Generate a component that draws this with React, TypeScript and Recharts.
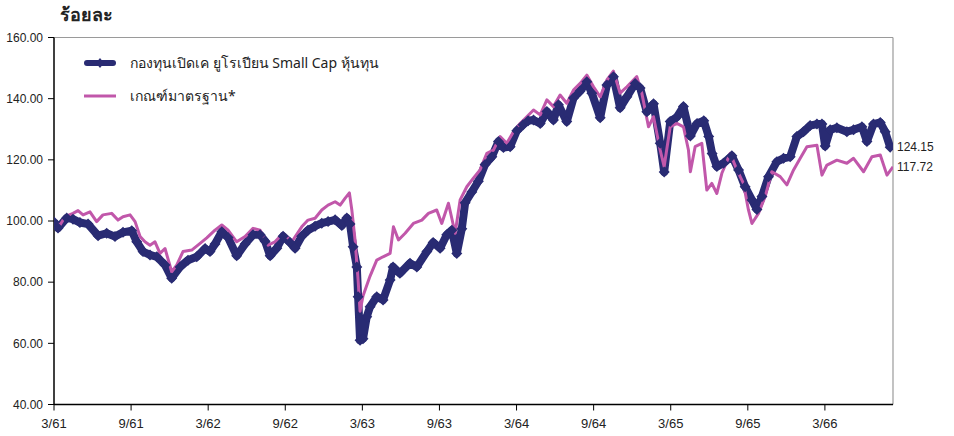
import React from "react";
import { LineChart, Line, XAxis, YAxis, ReferenceLine } from "recharts";

// months since March 2561 (2018)
const fundMonths = [0, 0.31, 0.99, 1.48, 2.02, 2.65, 3.43, 4.1, 4.75, 5.37, 6.05, 6.44, 6.93, 7.47, 8.0, 8.64, 9.16, 9.81, 10.43, 11.11, 11.76, 12.14, 12.53, 13.06, 13.55, 14.22, 14.87, 15.49, 16.04, 16.43, 16.82, 17.34, 17.83, 18.37, 18.76, 19.28, 19.77, 20.32, 20.84, 21.33, 21.88, 22.4, 22.79, 23.04, 23.28, 23.57, 23.67, 23.82, 24.05, 24.34, 24.6, 25.12, 25.61, 26.16, 26.39, 26.92, 27.71, 28.24, 29.02, 29.51, 30.05, 30.57, 30.96, 31.35, 31.74, 32.0, 32.52, 33.03, 33.55, 34.08, 34.59, 34.98, 35.5, 36.02, 36.51, 36.9, 37.32, 37.84, 38.36, 38.87, 39.26, 39.91, 40.43, 40.95, 41.47, 41.86, 42.51, 43.03, 43.54, 44.06, 44.59, 45.23, 45.62, 46.14, 46.66, 47.18, 47.49, 47.96, 48.48, 48.99, 49.53, 50.05, 50.57, 50.96, 51.22, 51.59, 52.11, 52.76, 53.28, 53.79, 54.32, 54.71, 55.1, 55.61, 56.26, 56.78, 57.3, 57.82, 58.33, 58.85, 59.38, 59.77, 60.02, 60.41, 60.93, 61.71, 62.23, 62.88, 63.27, 63.78, 64.31, 64.69, 65.08];
const fundValues = [99.7, 97.7, 101.0, 100.6, 99.5, 99.0, 95.2, 96.0, 94.9, 96.3, 96.8, 93.2, 90.0, 88.9, 88.3, 85.6, 81.3, 85.0, 87.2, 88.3, 91.0, 90.0, 92.5, 96.5, 94.6, 88.6, 92.5, 95.5, 95.5, 93.4, 88.6, 91.1, 95.0, 93.0, 91.1, 95.0, 97.0, 98.3, 99.3, 99.8, 100.4, 98.5, 101.0, 99.0, 91.6, 85.0, 75.2, 61.0, 61.5, 68.7, 72.0, 75.2, 74.2, 80.7, 85.0, 82.9, 86.2, 85.0, 90.0, 93.0, 91.1, 95.5, 97.0, 89.4, 97.5, 106.0, 109.5, 113.0, 118.5, 121.0, 126.0, 124.0, 124.3, 129.5, 131.5, 132.8, 133.0, 131.9, 135.8, 133.0, 138.0, 132.5, 140.2, 142.5, 145.5, 141.8, 133.8, 144.5, 147.2, 137.0, 140.6, 145.0, 143.5, 135.7, 138.3, 125.4, 116.0, 132.5, 134.0, 137.4, 127.8, 131.9, 132.8, 127.6, 122.1, 117.8, 118.9, 121.3, 116.7, 111.2, 106.9, 103.8, 108.0, 114.5, 119.4, 120.5, 121.0, 127.6, 129.2, 131.2, 131.7, 131.7, 124.5, 129.8, 130.5, 129.2, 129.8, 130.8, 126.0, 131.7, 132.2, 129.2, 124.15];

const benchMonths = [0, 0.47, 0.86, 1.48, 1.87, 2.26, 2.8, 3.32, 3.81, 4.49, 4.98, 5.37, 5.92, 6.31, 6.7, 7.08, 7.47, 7.86, 8.25, 8.64, 9.16, 9.55, 10.04, 10.72, 11.37, 11.89, 12.53, 13.06, 13.55, 14.22, 14.87, 15.49, 16.04, 16.66, 17.2, 17.83, 18.51, 19.28, 19.77, 20.32, 20.84, 21.33, 21.88, 22.27, 22.65, 22.99, 23.18, 23.43, 23.67, 23.82, 24.05, 24.6, 25.12, 25.61, 26.16, 26.42, 26.81, 27.33, 27.97, 28.63, 29.14, 29.79, 30.18, 30.7, 31.22, 31.61, 32.13, 32.64, 33.16, 33.69, 34.2, 34.72, 35.24, 35.76, 36.28, 36.8, 37.32, 37.84, 38.36, 38.87, 39.39, 39.91, 40.43, 40.95, 41.47, 41.99, 42.51, 43.03, 43.54, 44.06, 44.59, 45.36, 45.75, 46.27, 46.66, 47.18, 47.49, 47.96, 48.48, 48.99, 49.38, 49.53, 49.9, 50.42, 50.81, 51.2, 51.59, 51.98, 52.63, 53.15, 53.66, 54.05, 54.32, 54.83, 55.35, 55.87, 56.52, 57.04, 57.56, 58.08, 58.6, 59.38, 59.77, 60.16, 60.93, 61.71, 62.23, 63.01, 63.66, 64.31, 64.83, 65.3];
const benchValues = [99.8, 98.7, 101.4, 102.5, 103.4, 102.0, 103.0, 99.8, 102.0, 102.5, 100.3, 101.4, 102.0, 99.8, 94.9, 93.2, 92.1, 93.2, 89.4, 91.0, 83.4, 85.6, 90.0, 90.5, 92.7, 94.5, 97.0, 98.7, 97.0, 93.2, 94.9, 97.6, 97.0, 92.1, 93.2, 96.0, 93.2, 98.1, 100.3, 100.9, 103.6, 105.2, 106.3, 105.2, 107.4, 109.2, 103.6, 93.8, 80.7, 70.5, 75.5, 82.0, 87.2, 88.3, 89.4, 98.1, 93.8, 96.0, 99.2, 100.3, 102.5, 103.6, 99.2, 105.8, 96.0, 106.9, 111.2, 114.0, 116.7, 122.1, 123.2, 127.6, 125.4, 129.2, 131.9, 134.1, 136.3, 134.7, 139.6, 137.4, 141.2, 138.5, 142.8, 145.0, 147.7, 143.9, 140.6, 146.1, 149.0, 141.8, 143.9, 147.2, 141.8, 130.8, 134.1, 123.2, 117.8, 130.8, 131.9, 130.8, 123.2, 116.1, 124.3, 125.4, 110.1, 112.3, 109.0, 115.6, 122.1, 116.7, 112.3, 103.6, 99.2, 102.5, 108.0, 116.1, 114.5, 111.8, 116.7, 120.5, 124.3, 124.8, 115.0, 118.3, 119.9, 118.9, 120.5, 116.1, 121.0, 121.6, 115.0, 117.72];

const tickMonths = [0, 6, 12, 18, 24, 30, 36, 42, 48, 54, 60];
const tickLabels = ["3/61", "9/61", "3/62", "9/62", "3/63", "9/63", "3/64", "9/64", "3/65", "9/65", "3/66"];
const yTicks = [40, 60, 80, 100, 120, 140, 160];

const fundName = "กองทุนเปิดเค ยูโรเปียน Small Cap หุ้นทุน";
const benchName = "เกณฑ์มาตรฐาน*";
const yTitle = "ร้อยละ";

const NAVY = "#292B73";
const PINK = "#C157AA";
const X_MAX = 65.3;

const fundData = fundMonths.map((m, i) => ({ m, v: fundValues[i] }));
const benchData = benchMonths.map((m, i) => ({ m, v: benchValues[i] }));

const FONT = "'Liberation Sans', Arial, sans-serif";
const THAI_FONT = "'Noto Sans', 'Liberation Sans', sans-serif";

const Diamond = (props: any) => {
  const { cx, cy, index } = props;
  if (cx == null || cy == null) return <g key={"d" + index} />;
  const r = 5.5;
  return (
    <path
      key={"d" + index}
      d={`M${cx},${cy - r}L${cx + r},${cy}L${cx},${cy + r}L${cx - r},${cy}Z`}
      fill={NAVY}
      stroke="none"
    />
  );
};

const endLabel = (data: { m: number; v: number }[]) => (props: any) => {
  const { y, index } = props;
  if (index !== data.length - 1) return <g key={"l" + index} />;
  return (
    <text
      key={"l" + index}
      x={897}
      y={y}
      dy={4}
      fontSize={12}
      fontFamily={FONT}
      fill="#222"
      textAnchor="start"
    >
      {data[index].v.toFixed(2)}
    </text>
  );
};

export default function App() {
  return (
    <div style={{ position: "absolute", left: 0, top: 0, width: 954, height: 436, background: "#fff" }}>
      <div
        style={{
          position: "absolute",
          left: 60,
          top: 1,
          fontFamily: THAI_FONT,
          fontWeight: 700,
          fontSize: 18,
          color: "#222",
          lineHeight: "26px",
        }}
      >
        {yTitle}
      </div>
      <LineChart
        width={954}
        height={436}
        margin={{ top: 37.5, right: 61, bottom: 0, left: 0 }}
      >
        <XAxis
          dataKey="m"
          type="number"
          domain={[0, X_MAX]}
          ticks={tickMonths}
          tickFormatter={(v: number) => tickLabels[tickMonths.indexOf(v)] ?? ""}
          height={31.5}
          axisLine={{ stroke: "#000", strokeWidth: 1.5 }}
          tickLine={{ stroke: "#000" }}
          tickSize={6}
          tickMargin={8}
          tick={{ fontSize: 13, fontFamily: "'Liberation Sans Narrow', 'Liberation Sans', sans-serif", fill: "#222" }}
          allowDataOverflow
        />
        <YAxis
          type="number"
          domain={[40, 160]}
          ticks={yTicks}
          width={54}
          tickFormatter={(v: number) => v.toFixed(2)}
          axisLine={{ stroke: "#000", strokeWidth: 1.5 }}
          tickLine={{ stroke: "#000" }}
          tickSize={6}
          tickMargin={5}
          tick={{ fontSize: 12, fontFamily: FONT, fill: "#222" }}
        />
        <ReferenceLine y={160} stroke="#9a9a9a" strokeWidth={1.2} />
        <ReferenceLine x={X_MAX} stroke="#9a9a9a" strokeWidth={1.2} />
        <Line
          data={fundData}
          dataKey="v"
          type="linear"
          stroke={NAVY}
          strokeWidth={8}
          strokeLinejoin="round"
          dot={Diamond}
          activeDot={false}
          isAnimationActive={false}
          label={endLabel(fundData)}
        />
        <Line
          data={benchData}
          dataKey="v"
          type="linear"
          stroke={PINK}
          strokeWidth={3}
          strokeLinejoin="round"
          dot={false}
          activeDot={false}
          isAnimationActive={false}
          label={endLabel(benchData)}
        />
      </LineChart>
      <div style={{ position: "absolute", left: 84, top: 53, fontFamily: THAI_FONT, fontSize: 14, color: "#222" }}>
        <div style={{ display: "flex", alignItems: "center", height: 20 }}>
          <svg width={32} height={12} style={{ marginRight: 14 }}>
            <line x1={3} y1={6} x2={29} y2={6} stroke={NAVY} strokeWidth={6} strokeLinecap="round" />
            <path d="M16,1L20,6L16,11L12,6Z" fill={NAVY} />
          </svg>
          <span>{fundName}</span>
        </div>
        <div style={{ display: "flex", alignItems: "center", height: 20, marginTop: 13 }}>
          <svg width={32} height={12} style={{ marginRight: 14 }}>
            <line x1={0} y1={6} x2={32} y2={6} stroke={PINK} strokeWidth={3} />
          </svg>
          <span>{benchName}</span>
        </div>
      </div>
    </div>
  );
}
